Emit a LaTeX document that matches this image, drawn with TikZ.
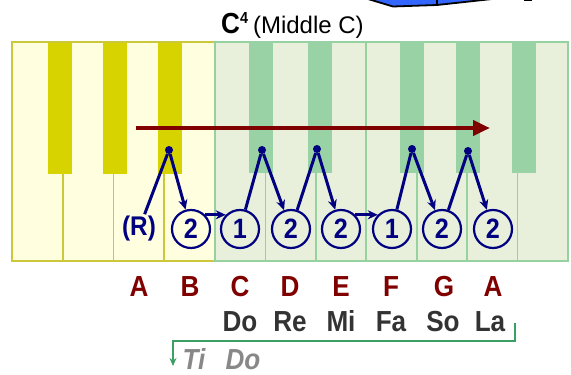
\documentclass[tikz,border=0pt]{standalone}
\usepackage{fontspec}
\setmainfont{Liberation Sans}
\newfontfamily\narrowsans[FakeStretch=0.9]{Liberation Sans}
\usepackage{tikz}
\usetikzlibrary{arrows.meta}
\definecolor{ykeyfill}{RGB}{255,255,224}
\definecolor{ykeyline}{RGB}{204,200,60}
\definecolor{yblack}{RGB}{214,211,0}
\definecolor{gkeyfill}{RGB}{232,240,220}
\definecolor{gkeyline}{RGB}{150,210,160}
\definecolor{gblack}{RGB}{153,211,165}
\definecolor{maroon}{RGB}{128,0,0}
\definecolor{navyblue}{RGB}{0,0,128}
\definecolor{solgray}{RGB}{51,51,51}
\definecolor{tigray}{RGB}{136,136,136}
\definecolor{bracketgreen}{RGB}{60,160,100}
\definecolor{topblue}{RGB}{51,102,255}

\begin{document}
\begin{tikzpicture}[x=1pt,y=-1pt]
\tikzstyle{ykey}=[fill=ykeyfill, draw=ykeyline, line width=1.8]
\tikzstyle{gkey}=[fill=gkeyfill, draw=gkeyline, line width=1.8]
\tikzstyle{dot}=[circle, minimum size=8, inner sep=0, fill=navyblue]
\tikzstyle{num}=[circle, minimum size=38, inner sep=0, draw=navyblue, line width=2.2, text=navyblue, font=\narrowsans\fontsize{28}{28}\selectfont\bfseries]
\tikzstyle{rlab}=[inner sep=2, text=navyblue, font=\narrowsans\fontsize{27}{27}\selectfont\bfseries]
\tikzstyle{link}=[draw=navyblue, line width=3]
\tikzstyle{jump}=[draw=navyblue, line width=3, -{Stealth[length=10,width=9]}]
\tikzstyle{letter}=[anchor=base, inner sep=0, text=maroon, font=\narrowsans\fontsize{29}{29}\selectfont\bfseries]
\tikzstyle{solfa}=[anchor=base, inner sep=0, text=solgray, font=\narrowsans\fontsize{29}{29}\selectfont\bfseries]
\tikzstyle{wrap}=[anchor=base, inner sep=0, text=tigray, font=\narrowsans\fontsize{29}{29}\selectfont\bfseries\itshape]
\useasboundingbox (0,0) rectangle (571,375);

% top shape, cut off
\filldraw[fill=topblue, draw=black, line width=1.8] (368,-1) -- (393,6.5) -- (437,5) -- (492,-1) -- cycle;
\draw[black, line width=1.8] (437,-1) -- (437,5);
\draw[black, line width=1.8] (524,0.5) -- (532,0.5);

% keyboard
\foreach \i in {0,...,3} \draw[ykey] ({12+\i*50.75},42) rectangle ++(50.75,219);
\foreach \i in {0,...,6} \draw[gkey] ({215+\i*50.43},42) rectangle ++(50.43,219);
\foreach \x in {48,103,158} \fill[yblack] (\x,42.9) rectangle ++(24,131);
\foreach \x in {249,308,400,456,512} \fill[gblack] (\x,41) rectangle ++(24,132);

\node[inner sep=0, anchor=base west] (mid_c) at (221,33)
  {\narrowsans\fontsize{29}{29}\selectfont\bfseries C\raisebox{10pt}{\fontsize{16}{16}\selectfont 4}\hspace{5pt}\normalfont\fontsize{24}{24}\selectfont (Middle C)};

\coordinate (arr_s) at (136,128);
\coordinate (arr_e) at (490,128);
\draw[maroon, line width=4.5, -{Triangle[length=17,width=15]}] (arr_s) -- (arr_e);

	\node[dot] (d_1) at (169,150) {};
	\node[dot] (d_2) at (262,150) {};
	\node[dot] (d_3) at (317,149) {};
	\node[dot] (d_4) at (412,149) {};
	\node[dot] (d_5) at (468,151) {};

	\node[rlab] (r_1) at (139,229) {(R)};
	\node[num] (c_1) at (191,229) {2};
	\node[num] (c_2) at (240,229) {1};
	\node[num] (c_3) at (291,229) {2};
	\node[num] (c_4) at (341,229) {2};
	\node[num] (c_5) at (392,229) {1};
	\node[num] (c_6) at (442,229) {2};
	\node[num] (c_7) at (493,229) {2};

	\path
		(r_1) edge [link] (d_1)
		(d_1) edge [jump] (c_1)
		(c_1.45) edge [jump] (c_2.135)
		(c_2) edge [link] (d_2)
		(d_2) edge [jump] (c_3)
		(c_3) edge [link] (d_3)
		(d_3) edge [jump] (c_4)
		(c_4.45) edge [jump] (c_5.135)
		(c_5) edge [link] (d_4)
		(d_4) edge [jump] (c_6)
		(c_6) edge [link] (d_5)
		(d_5) edge [jump] (c_7);

	\node[letter] (l_1) at (139,296) {A};
	\node[letter] (l_2) at (190,296) {B};
	\node[letter] (l_3) at (240,296) {C};
	\node[letter] (l_4) at (290,296) {D};
	\node[letter] (l_5) at (341,296) {E};
	\node[letter] (l_6) at (391,296) {F};
	\node[letter] (l_7) at (444,296) {G};
	\node[letter] (l_8) at (493,296) {A};

	\node[solfa] (s_1) at (240,331) {Do};
	\node[solfa] (s_2) at (290,331) {Re};
	\node[solfa] (s_3) at (341,331) {Mi};
	\node[solfa] (s_4) at (391,331) {Fa};
	\node[solfa] (s_5) at (443,331) {So};
	\node[solfa] (s_6) at (490,331) {La};

	\node[wrap] (w_1) at (194,369) {Ti};
	\node[wrap] (w_2) at (243,369) {Do};

\coordinate (brk_s) at (515,323);
\coordinate (brk_e) at (173,366);
\draw[bracketgreen, line width=2.3, -{Stealth[length=8,width=7]}] (brk_s) -- ++(0,18) -| (brk_e);
\end{tikzpicture}
\end{document}
